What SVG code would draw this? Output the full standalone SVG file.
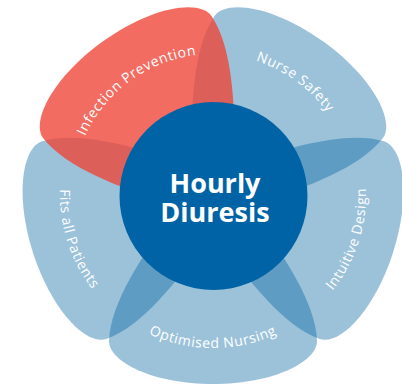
<svg xmlns="http://www.w3.org/2000/svg" width="402" height="385" viewBox="0 0 402 385">
<defs>
<style>
.petal{fill:#0063A0;fill-opacity:0.39}
.petal-red{fill:#EE4336;fill-opacity:0.78}
.hub{fill:#0063A5}
.lbl{font-family:"Open Sans","DejaVu Sans",sans-serif;font-size:14px;letter-spacing:0.6px;fill:#ffffff}
.hub-txt{font-family:"Open Sans","DejaVu Sans",sans-serif;font-size:27px;font-weight:bold;fill:#ffffff;text-anchor:middle}
.guide{fill:none;stroke:none}
</style>
<path id="petalShape" d="M -45,25 C -70,60 -103,108 -104,146 C -104,167 -60,189 0,189 C 60,189 104,167 104,146 C 103,108 70,60 45,25 Z"/>
</defs>
<g id="connectors"></g>
<g transform="translate(213,195)">
<g id="petal-optimised-nursing"><use href="#petalShape" class="petal"/></g>
<g id="petal-intuitive-design"><use href="#petalShape" class="petal" transform="rotate(-72)"/></g>
<g id="petal-nurse-safety"><use href="#petalShape" class="petal" transform="rotate(216)"/></g>
<g id="petal-fits-all-patients"><use href="#petalShape" class="petal" transform="rotate(72)"/></g>
<g id="petal-infection-prevention"><use href="#petalShape" class="petal-red" transform="rotate(144)"/></g>
</g>
<g id="hub">
<circle class="hub" cx="213.5" cy="196" r="94"/>
<text class="hub-txt" x="215" y="192.5">Hourly</text>
<text class="hub-txt" x="215" y="221.5">Diuresis</text>
</g>
<g id="labels">
<path id="pInf" class="guide" d="M 77.5,233.9 A 141 141 0 0 1 291.8,78.1"/>
<path id="pNurse" class="guide" d="M 134.2,78.1 A 141 141 0 0 1 348.5,233.9"/>
<path id="pOpt" class="guide" d="M 69.2,247.3 A 153 153 0 0 0 356.8,247.3"/>
<path id="pInt" class="guide" d="M 218.3,347.9 A 153 153 0 0 0 307.2,74.4"/>
<path id="pFits" class="guide" d="M 118.8,74.4 A 153 153 0 0 0 207.7,347.9"/>
<g id="label-infection"><text class="lbl" text-anchor="middle"><textPath href="#pInf" startOffset="50%">Infection Prevention</textPath></text></g>
<g id="label-nurse"><text class="lbl" text-anchor="middle"><textPath href="#pNurse" startOffset="50%">Nurse Safety</textPath></text></g>
<g id="label-optimised"><text class="lbl" text-anchor="middle"><textPath href="#pOpt" startOffset="50%">Optimised Nursing</textPath></text></g>
<g id="label-intuitive"><text class="lbl" text-anchor="middle"><textPath href="#pInt" startOffset="50%">Intuitive Design</textPath></text></g>
<g id="label-fits"><text class="lbl" text-anchor="middle"><textPath href="#pFits" startOffset="50%">Fits all Patients</textPath></text></g>
</g>
</svg>
